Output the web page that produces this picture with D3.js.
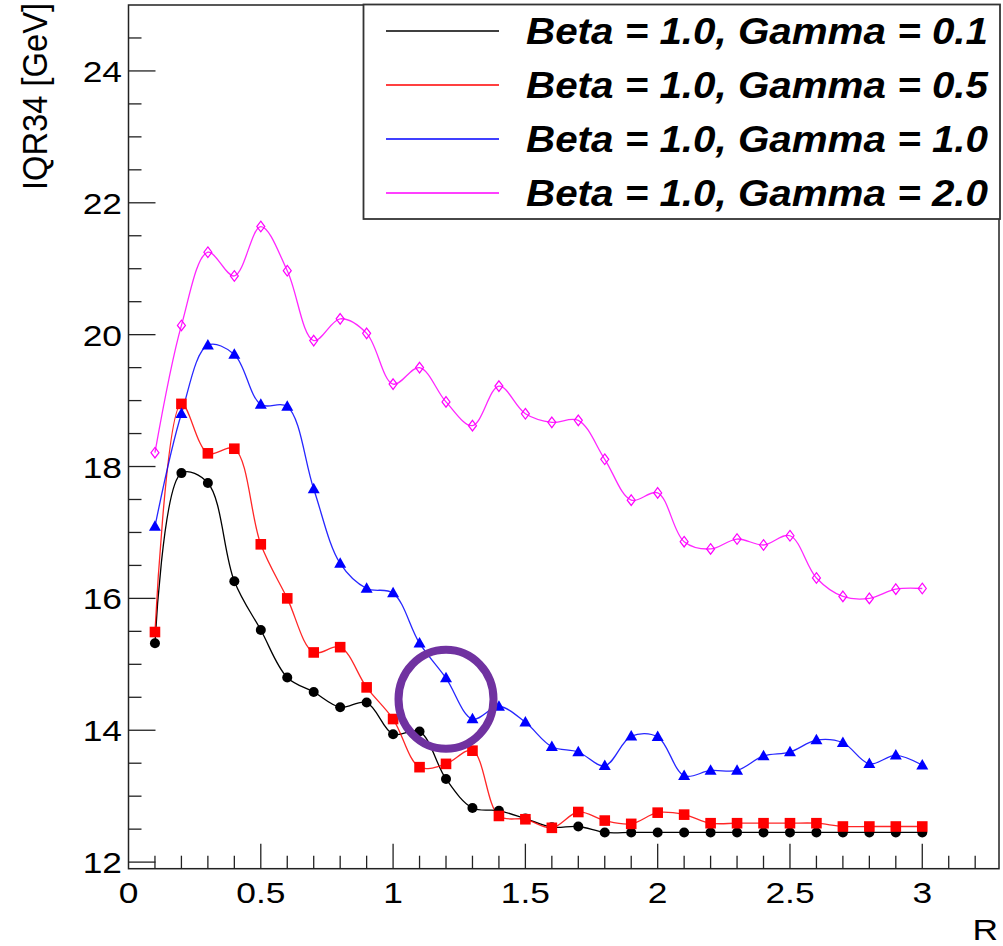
<!DOCTYPE html>
<html>
<head>
<meta charset="utf-8">
<script src="https://cdn.jsdelivr.net/npm/d3@7"></script>
<style>
  html, body { margin: 0; padding: 0; background: #fff; }
  svg { display: block; }
  text { font-family: "Liberation Sans", Helvetica, Arial, sans-serif; }
</style>
</head>
<body>
<svg id="chart" width="1003" height="946"></svg>
<script>
// Cone size R scanned from 0.1 to 3.0
const radii = [0.1, 0.2, 0.3, 0.4, 0.5, 0.6, 0.7, 0.8, 0.9, 1.0,
               1.1, 1.2, 1.3, 1.4, 1.5, 1.6, 1.7, 1.8, 1.9, 2.0,
               2.1, 2.2, 2.3, 2.4, 2.5, 2.6, 2.7, 2.8, 2.9, 3.0];

// IQR34 [GeV] for each (Beta, Gamma) setting
const iqrGamma01 = [15.32, 17.90, 17.75, 16.26, 15.52, 14.80, 14.58, 14.35, 14.42, 13.94,
                    13.98, 13.26, 12.82, 12.78, 12.66, 12.53, 12.54, 12.45, 12.45, 12.45,
                    12.45, 12.45, 12.45, 12.45, 12.45, 12.45, 12.45, 12.45, 12.45, 12.45];
const iqrGamma05 = [15.49, 18.95, 18.20, 18.27, 16.82, 16.00, 15.18, 15.26, 14.65, 14.17,
                    13.44, 13.49, 13.69, 12.70, 12.65, 12.52, 12.76, 12.63, 12.58, 12.75,
                    12.72, 12.59, 12.59, 12.59, 12.59, 12.59, 12.54, 12.54, 12.54, 12.54];
const iqrGamma10 = [17.09, 18.80, 19.84, 19.70, 18.94, 18.91, 17.66, 16.53, 16.15, 16.08,
                    15.32, 14.79, 14.17, 14.36, 14.12, 13.75, 13.67, 13.46, 13.91, 13.90,
                    13.31, 13.39, 13.39, 13.61, 13.67, 13.85, 13.81, 13.49, 13.62, 13.47];
const iqrGamma20 = [18.21, 20.14, 21.25, 20.89, 21.64, 20.97, 19.91, 20.24, 20.02, 19.25,
                    19.50, 18.98, 18.62, 19.22, 18.80, 18.67, 18.70, 18.11, 17.49, 17.60,
                    16.86, 16.75, 16.90, 16.81, 16.95, 16.31, 16.03, 16.00, 16.14, 16.15];

const seriesLabels = ["Beta = 1.0, Gamma = 0.1", "Beta = 1.0, Gamma = 0.5",
                      "Beta = 1.0, Gamma = 1.0", "Beta = 1.0, Gamma = 2.0"];
const xTickLabels = ["0", "0.5", "1", "1.5", "2", "2.5", "3"];
const yTickLabels = ["12", "14", "16", "18", "20", "22", "24"];

// Highlighted point (R = 1.2 on the Gamma = 1.0 curve)
const highlightR = 1.2;
const highlightIQR = 14.47;

const colors = ["#000000", "#ff0000", "#0000ff", "#ff00ff"];
const markerKinds = ["circle", "square", "triangle", "diamond"];
const seriesValues = [iqrGamma01, iqrGamma05, iqrGamma10, iqrGamma20];

const svg = d3.select("#chart");
svg.append("rect").attr("width", 1003).attr("height", 946).attr("fill", "#fff");

const frame = { left: 128.5, right: 999, top: 5, bottom: 868.7 };
const x = d3.scaleLinear().domain([0, 3.29]).range([frame.left, frame.right]);
const y = d3.scaleLinear().domain([11.9, 25.0]).range([frame.bottom, frame.top]);

const stretch = 1.22;   // horizontal stretch of the lettering
const axisColor = "#222";

// frame
svg.append("rect")
  .attr("x", frame.left).attr("y", frame.top)
  .attr("width", frame.right - frame.left).attr("height", frame.bottom - frame.top)
  .attr("fill", "none").attr("stroke", axisColor).attr("stroke-width", 1.5);

// x axis ticks (major every 0.5, minor every 0.1)
const xMinor = d3.range(1, 33).map(i => i / 10);
svg.append("g").selectAll("line").data(xMinor).join("line")
  .attr("x1", d => x(d)).attr("x2", d => x(d))
  .attr("y1", frame.bottom).attr("y2", d => frame.bottom - (Math.abs(d * 2 - Math.round(d * 2)) < 1e-6 ? 25 : 13))
  .attr("stroke", axisColor).attr("stroke-width", 1.3);

svg.append("g").selectAll("text").data(xTickLabels).join("text")
  .attr("transform", d => `translate(${x(+d)},903) scale(${stretch},1)`)
  .attr("text-anchor", "middle").attr("font-size", 29).attr("fill", "#000")
  .text(d => d);

// y axis ticks (major every 2, minor every 0.5)
const yMinor = d3.range(24, 50).map(i => i / 2);
svg.append("g").selectAll("line").data(yMinor).join("line")
  .attr("y1", d => y(d)).attr("y2", d => y(d))
  .attr("x1", frame.left).attr("x2", d => frame.left + (d % 2 === 0 ? 27 : 13))
  .attr("stroke", axisColor).attr("stroke-width", 1.3);

svg.append("g").selectAll("text").data(yTickLabels).join("text")
  .attr("transform", d => `translate(122,${y(+d) + 11}) scale(${stretch},1)`)
  .attr("text-anchor", "end").attr("font-size", 29).attr("fill", "#000")
  .text(d => d);

// axis titles
svg.append("text")
  .attr("transform", `translate(998,940) scale(${stretch},1)`)
  .attr("text-anchor", "end").attr("font-size", 29).text("R");

svg.append("text")
  .attr("transform", `translate(47,3) scale(${stretch},1) rotate(-90)`)
  .attr("text-anchor", "end").attr("font-size", 29.5)
  .attr("textLength", 187).attr("lengthAdjust", "spacingAndGlyphs")
  .text("IQR34 [GeV]");

// curves
const line = d3.line()
  .x((d, i) => x(radii[i]))
  .y(d => y(d))
  .curve(d3.curveCatmullRom.alpha(0.5));

const plot = svg.append("g");
seriesValues.forEach((vals, s) => {
  plot.append("path")
    .attr("d", line(vals))
    .attr("fill", "none")
    .attr("stroke", colors[s])
    .attr("stroke-width", 1.3)
    .attr("stroke-opacity", s === 0 ? 1 : 0.85);
});

// markers
function marker(g, kind, cx, cy, color) {
  if (kind === "circle") {
    g.append("circle").attr("cx", cx).attr("cy", cy).attr("r", 5).attr("fill", color);
  } else if (kind === "square") {
    g.append("rect").attr("x", cx - 5.3).attr("y", cy - 5.3).attr("width", 10.6).attr("height", 10.6).attr("fill", color);
  } else if (kind === "triangle") {
    g.append("path").attr("d", `M${cx},${cy - 6.3}L${cx + 6},${cy + 4.2}L${cx - 6},${cy + 4.2}Z`).attr("fill", color);
  } else {
    g.append("path").attr("d", `M${cx},${cy - 5.3}L${cx + 4},${cy}L${cx},${cy + 5.3}L${cx - 4},${cy}Z`)
      .attr("fill", "none").attr("stroke", color).attr("stroke-width", 1.2);
  }
}
seriesValues.forEach((vals, s) => {
  const g = plot.append("g");
  vals.forEach((v, i) => marker(g, markerKinds[s], x(radii[i]), y(v), colors[s]));
});

// highlight ring
svg.append("ellipse")
  .attr("cx", x(highlightR)).attr("cy", y(highlightIQR))
  .attr("rx", 47.5).attr("ry", 49.5)
  .attr("fill", "none").attr("stroke", "#7032a0").attr("stroke-width", 8);

// legend
const legend = svg.append("g");
legend.append("rect")
  .attr("x", 363.5).attr("y", 4.5).attr("width", 636.5).attr("height", 214.5)
  .attr("fill", "#fff").attr("stroke", "#333").attr("stroke-width", 1.8);
seriesLabels.forEach((label, s) => {
  const cy = 31 + s * 54;
  legend.append("line")
    .attr("x1", 386).attr("x2", 499).attr("y1", cy).attr("y2", cy)
    .attr("stroke", colors[s]).attr("stroke-width", 1.4);
  legend.append("text")
    .attr("transform", `translate(526,${cy + 12.5})`)
    .attr("font-size", 36).attr("font-weight", "bold").attr("font-style", "italic")
    .attr("textLength", 462).attr("lengthAdjust", "spacingAndGlyphs")
    .text(label);
});
</script>
</body>
</html>
